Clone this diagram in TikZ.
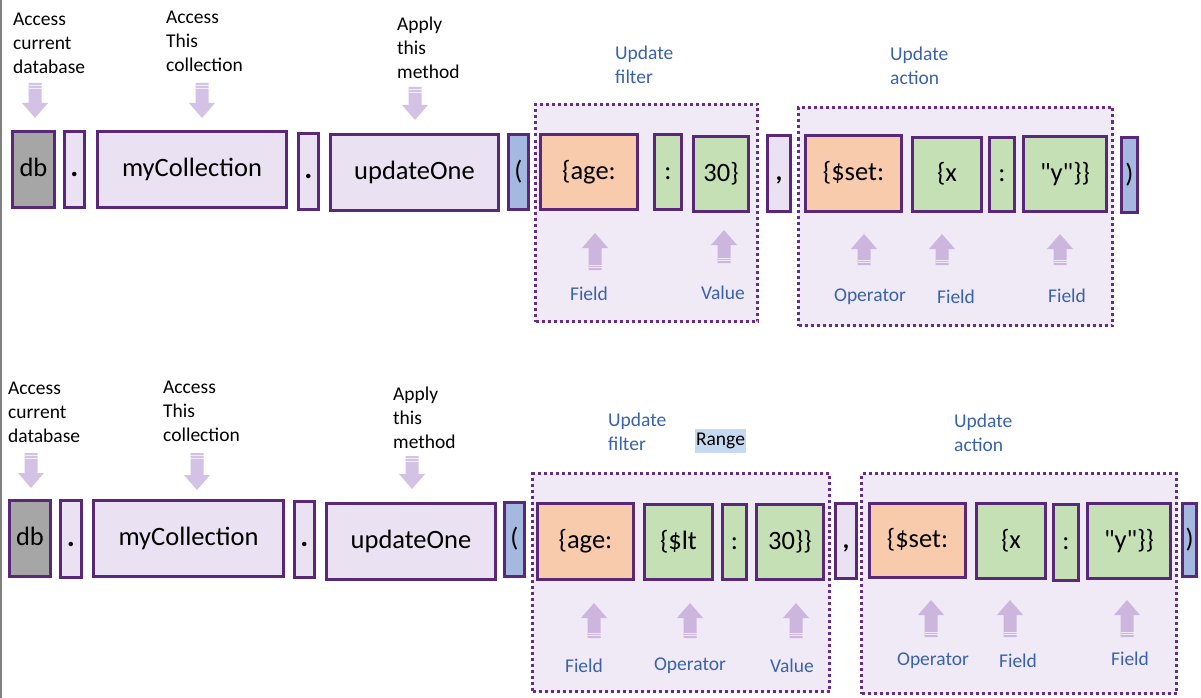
\documentclass[tikz,border=0pt]{standalone}
\usepackage{fontspec}
\setmainfont{Carlito}[Ligatures=TeXOff]
\definecolor{bord}{RGB}{90,40,120}
\definecolor{lav}{RGB}{234,226,242}
\definecolor{grpfill}{RGB}{240,234,246}
\definecolor{grpbord}{RGB}{100,45,135}
\definecolor{dbgray}{RGB}{166,166,166}
\definecolor{peach}{RGB}{248,203,173}
\definecolor{mint}{RGB}{197,224,180}
\definecolor{paren}{RGB}{164,184,224}
\definecolor{arrcol}{RGB}{212,194,230}
\definecolor{arrcolb}{RGB}{204,182,222}
\definecolor{lblue}{RGB}{58,98,172}
\definecolor{rangehl}{RGB}{197,217,241}
\newcommand\bigp[1]{{\fontsize{30}{30}\selectfont\textbf{#1}}}
\newcommand\bx[7]{%
  \node[box, fill=#2, minimum width={(#5-#3-2.6)*1pt}, minimum height={(#6-#4-2.6)*1pt}] (#1) at ({(#3+#5)/2},{(#4+#6)/2}) {#7};}
\newcommand\grp[5]{%
  \node[grp, minimum width={(#4-#2-3)*1pt}, minimum height={(#5-#3-3)*1pt}] (#1) at ({(#2+#4)/2},{(#3+#5)/2}) {};}
\newcommand\dnarr[3]{%
  \fill[arrcol] (#1-6.5,#2) -- (#1+6.5,#2) -- (#1+6.5,#3-15) -- (#1+13,#3-15) -- (#1,#3) -- (#1-13,#3-15) -- (#1-6.5,#3-15) -- cycle;
  \draw[white, line width=0.8pt, opacity=.7] (#1-6.5,#2+2.5) -- (#1+6.5,#2+2.5) (#1-6.5,#2+5) -- (#1+6.5,#2+5);}
\newcommand\uparr[3]{%
  \fill[arrcolb] (#1-6.5,#3) -- (#1+6.5,#3) -- (#1+6.5,#2+15) -- (#1+13,#2+15) -- (#1,#2) -- (#1-13,#2+15) -- (#1-6.5,#2+15) -- cycle;
  \draw[white, line width=0.8pt, opacity=.7] (#1-6.5,#3-2.5) -- (#1+6.5,#3-2.5) (#1-6.5,#3-5) -- (#1+6.5,#3-5);}
\begin{document}
\begin{tikzpicture}[x=1pt,y=-1pt,
  box/.style={draw=bord, line width=2.6pt, inner sep=0pt, text height=18pt, text depth=4pt, font=\fontsize{26.5}{30}\selectfont},
  grp/.style={draw=grpbord, fill=grpfill, line width=3pt, dash pattern=on 3pt off 3pt, inner sep=0pt},
  blk/.style={font=\fontsize{19.5}{24}\selectfont, align=left, inner sep=0pt, anchor=north west},
  blu/.style={blk, text=lblue},
  sub/.style={font=\fontsize{19.5}{24}\selectfont, text=lblue, inner sep=0pt}]
\useasboundingbox (0,0) rectangle (1201,698);
\fill[white] (0,0) rectangle (1201,698);
\draw[gray, line width=1.6pt] (0.8,0) -- (0.8,698);

% ---------- top row ----------
\grp{gf1}{534}{103}{759}{323}
\grp{ga1}{797}{106}{1114}{327}
\bx{db1}{dbgray}{11}{130}{56}{209}{db}
\bx{dotA1}{lav}{63}{130}{86}{209}{\bigp{.}}
\bx{coll1}{lav}{96}{130}{288}{209}{myCollection}
\bx{dotB1}{lav}{297}{132}{320}{211}{\bigp{.}}
\bx{meth1}{lav}{329}{133}{500}{212}{updateOne}
\bx{lp1}{paren}{507}{133}{530}{211}{(}
\bx{age1}{peach}{539}{133}{639}{211}{\{age:}
\bx{col1}{mint}{653}{133}{683}{211}{:}
\bx{val1}{mint}{692}{135}{750}{213}{30\}}
\bx{com1}{lav}{766}{134}{792}{213}{\textbf{,}}
\bx{set1}{peach}{804}{134}{903}{213}{\{\$set:}
\bx{x1}{mint}{911}{136}{983}{213}{\{x}
\bx{colb1}{mint}{988}{136}{1016}{213}{:}
\bx{y1}{mint}{1022}{135}{1108}{213}{"y"\}\}}
\bx{rp1}{paren}{1120}{136}{1139}{214}{)}

\node[blk] (lbdb1) at (13,13) {Access\\current\\database};
\node[blk] (lbcoll1) at (166,11) {Access\\This\\collection};
\node[blk] (lbmeth1) at (397,17) {Apply\\this\\method};
\node[blu] (lbf1) at (615,46) {Update\\filter};
\node[blu] (lba1) at (890,47) {Update\\action};

\dnarr{35}{83}{118}
\dnarr{202}{83}{118}
\dnarr{415}{87}{120}
\uparr{595}{233}{270}
\uparr{724}{230}{263}
\uparr{864}{234}{265}
\uparr{942}{234}{265}
\uparr{1060}{234}{265}

\node[sub] (s1) at (589,294) {Field};
\node[sub] (s2) at (723,293) {Value};
\node[sub] (s3) at (870,297) {Operator};
\node[sub] (s4) at (956,297) {Field};
\node[sub] (s5) at (1067,296) {Field};

% ---------- bottom row ----------
\grp{gf2}{531}{472}{831}{693}
\grp{ga2}{860}{472}{1178}{695}
\bx{db2}{dbgray}{8}{499}{52}{578}{db}
\bx{dotA2}{lav}{59}{499}{83}{579}{\bigp{.}}
\bx{coll2}{lav}{92}{499}{285}{578}{myCollection}
\bx{dotB2}{lav}{293}{500}{316}{579}{\bigp{.}}
\bx{meth2}{lav}{325}{502}{497}{581}{updateOne}
\bx{lp2}{paren}{503}{501}{526}{578}{(}
\bx{age2}{peach}{536}{502}{635}{581}{\{age:}
\bx{lt2}{mint}{643}{503}{714}{581}{\{\$lt}
\bx{col2}{mint}{721}{503}{748}{581}{:}
\bx{val2}{mint}{755}{503}{825}{581}{30\}\}}
\bx{com2}{lav}{834}{502}{858}{580}{\textbf{,}}
\bx{set2}{peach}{868}{502}{967}{579}{\{\$set:}
\bx{x2}{mint}{975}{502}{1047}{580}{\{x}
\bx{colb2}{mint}{1052}{503}{1080}{582}{:}
\bx{y2}{mint}{1086}{502}{1172}{580}{"y"\}\}}
\bx{rp2}{paren}{1181}{502}{1198}{578}{)}

\node[blk] (lbdb2) at (8,382) {Access\\current\\database};
\node[blk] (lbcoll2) at (163,381) {Access\\This\\collection};
\node[blk] (lbmeth2) at (393,387) {Apply\\this\\method};
\node[blu] (lbf2) at (608,413) {Update\\filter};
\node[blu] (lba2) at (954,414) {Update\\action};
\node[font=\fontsize{19.5}{24}\selectfont, fill=rangehl, inner sep=0pt, minimum width=51pt, minimum height=24pt] (range) at (720.5,441) {Range};

\dnarr{31}{453}{488}
\dnarr{197}{453}{490}
\dnarr{412}{456}{489}
\uparr{594}{603}{638}
\uparr{690}{603}{638}
\uparr{796}{603}{638}
\uparr{931}{600}{637}
\uparr{1010}{600}{637}
\uparr{1127}{600}{637}

\node[sub] (t1) at (584,666) {Field};
\node[sub] (t2) at (690,666) {Operator};
\node[sub] (t3) at (792,666) {Value};
\node[sub] (t4) at (933,661) {Operator};
\node[sub] (t5) at (1018,661) {Field};
\node[sub] (t6) at (1130,659) {Field};
\end{tikzpicture}
\end{document}
